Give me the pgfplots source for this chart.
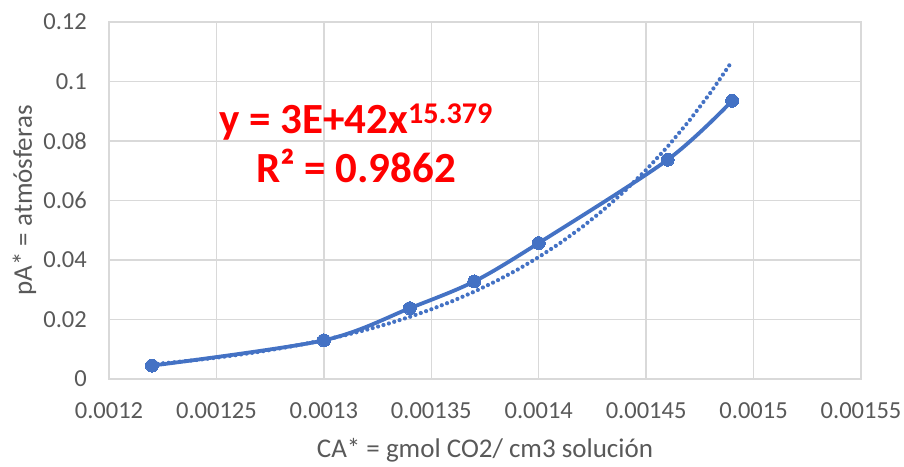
\documentclass[border=0pt]{standalone}
\usepackage{fontspec}
\setmainfont{Carlito}
\usepackage{pgfplots}
\pgfplotsset{compat=1.18}
\definecolor{xlblue}{RGB}{68,114,196}
\definecolor{gridgray}{RGB}{217,217,217}
\definecolor{txtgray}{RGB}{89,89,89}
\definecolor{eqred}{RGB}{255,0,0}
\begin{document}
\begin{tikzpicture}
\useasboundingbox (-109pt,-87pt) rectangle (795pt,379pt);
\begin{axis}[
  at={(0pt,0pt)}, anchor=south west,
  scale only axis, width=752pt, height=357pt,
  xmin=0.0012, xmax=0.00155, ymin=0, ymax=0.12,
  scaled x ticks=false, scaled y ticks=false,
  xtick={0.0012,0.00125,0.0013,0.00135,0.0014,0.00145,0.0015,0.00155},
  xticklabels={0.0012,0.00125,0.0013,0.00135,0.0014,0.00145,0.0015,0.00155},
  ytick={0,0.02,0.04,0.06,0.08,0.1,0.12},
  yticklabels={0,0.02,0.04,0.06,0.08,0.1,0.12},
  grid=major,
  major grid style={draw=gridgray, line width=1.3pt},
  axis line style={draw=gridgray, line width=1.3pt},
  major tick length=0pt,
  ticklabel style={font=\fontsize{24.5}{28}\selectfont, text=txtgray},
  xticklabel style={anchor=base, inner sep=0pt, yshift=-39pt},
  yticklabel style={anchor=east, inner sep=0pt, xshift=-22pt},
  xlabel={CA* = gmol CO2/ cm3 solución},
  ylabel={pA* = atmósferas},
  label style={font=\fontsize{27}{30}\selectfont, text=txtgray},
  xlabel style={at={(axis description cs:0.5,0)}, anchor=base, inner sep=0pt, yshift=-78pt},
  ylabel style={at={(axis description cs:0,0.5)}, anchor=base, inner sep=0pt, yshift=77pt},
  clip=false,
]
% trendline (power fit), values read/estimated from the chart
\addplot[xlblue, line width=4.2pt, line cap=round, dash pattern=on 0pt off 5.6pt] coordinates {
(0.00122,0.00494) (0.00123,0.00560) (0.00124,0.00634) (0.00125,0.00717)
(0.00126,0.00811) (0.00127,0.00915) (0.00128,0.01033) (0.00129,0.01164)
(0.00130,0.01311) (0.00131,0.01475) (0.00132,0.01658) (0.00133,0.01861)
(0.00134,0.02089) (0.00135,0.02342) (0.00136,0.02623) (0.00137,0.02936)
(0.00138,0.03284) (0.00139,0.03669) (0.00140,0.04097) (0.00141,0.04571)
(0.00142,0.05096) (0.00143,0.05676) (0.00144,0.06318) (0.00145,0.07028)
(0.00146,0.07811) (0.00147,0.08676) (0.00148,0.09629) (0.00149,0.10680)
};
% data series
\addplot[xlblue, line width=3.8pt, smooth, tension=0.5, mark=*, mark size=6.5pt, mark options={fill=xlblue, draw=xlblue, line width=0pt}] coordinates {
(0.00122,0.0045) (0.00130,0.0130) (0.00134,0.0238) (0.00137,0.0328)
(0.00140,0.0457) (0.00146,0.0737) (0.00149,0.0935)
};
\node[anchor=base, text=eqred, font=\fontsize{43}{46}\selectfont\bfseries, inner sep=0pt] at (axis description cs:0.3285,0.689) {y = 3E+42x\textsuperscript{15.379}};
\node[anchor=base, text=eqred, font=\fontsize{43}{46}\selectfont\bfseries, inner sep=0pt] at (axis description cs:0.3285,0.5518) {R² = 0.9862};
\end{axis}
\end{tikzpicture}
\end{document}
